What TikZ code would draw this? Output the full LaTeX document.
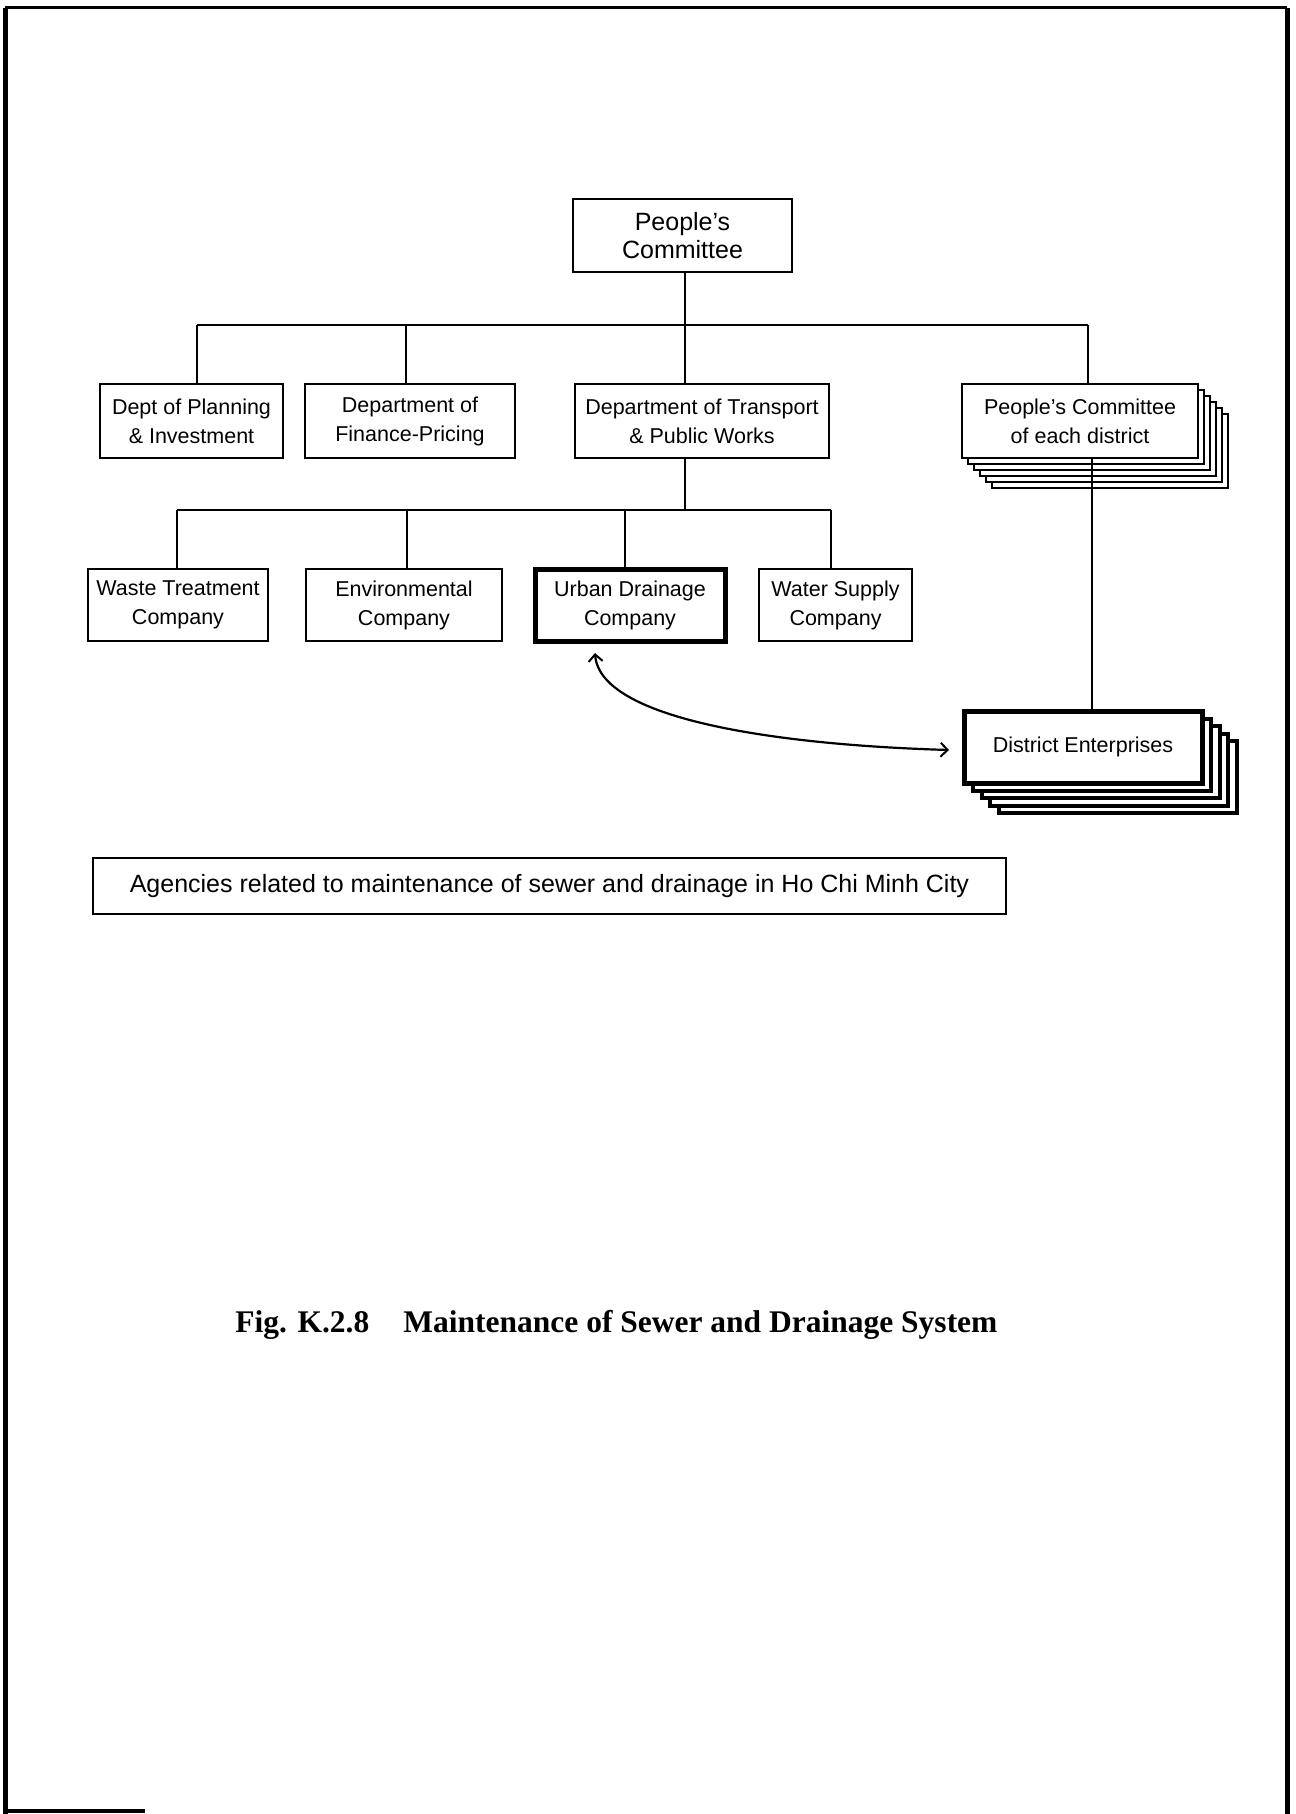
\documentclass[tikz,border=0pt]{standalone}
\usepackage{fontspec}
\setmainfont{Liberation Sans}
\newfontfamily\titlefont{Liberation Serif}
\usetikzlibrary{arrows.meta,calc}

\tikzset{openbarb/.tip={Straight Barb[length=3.5pt, width=7pt, line width=1pt]}}

\begin{document}
\begin{tikzpicture}[x=0.5pt,y=-0.5pt,
  box/.style={draw, line width=1pt, fill=white, align=center, inner sep=0pt,
    font=\fontsize{10.75pt}{14.5pt}\selectfont},
  bigbox/.style={box, font=\fontsize{12.5pt}{14pt}\selectfont},
  heavy/.style={line width=2.5pt},
  size/.style 2 args={minimum width=#1*0.5pt, minimum height=#2*0.5pt},
  link/.style={line width=1.25pt},
  layer/.style={draw, fill=white, line width=1pt},
  heavylayer/.style={draw, fill=white, line width=2pt}
]
\useasboundingbox (0,0) rectangle (1295,1814);

% page frame
\draw[line width=2.5pt] (5,1814) -- (5,8);
\draw[line width=1.5pt] (5,8) -- (1287,8);
\draw[line width=2.5pt] (1287,8) -- (1287,1814);
\draw[line width=2pt] (3,1811) -- (145,1811);

% junctions on the two busses
\coordinate (j1) at (197,325);
\coordinate (j2) at (406,325);
\coordinate (j3) at (685,325);
\coordinate (j4) at (1088,325);
\coordinate (k1) at (177,510);
\coordinate (k2) at (407,510);
\coordinate (k3) at (625,510);
\coordinate (k4) at (831,510);
\coordinate (k0) at (685,510);
\coordinate (dl) at (1092,0);

% top level
\node[bigbox, size={219}{73}] (pc) at (682.5,235.5) {People's\\Committee};

% stacked copies behind the district committee
\foreach \k in {5,4,3,2,1}
  \draw[layer] (962+6*\k,384+6*\k) rectangle (1198+6*\k,458+6*\k);

% second row
\node[box, size={183}{74}] (plan) at (191.5,421) {Dept of Planning\\\& Investment};
\node[box, size={210}{74}] (fin) at (410,421) {Department of\\Finance-Pricing};
\node[box, size={254}{74}] (dtpw) at (702,421) {Department of Transport\\\& Public Works};
\node[box, size={236}{74}] (pcd) at (1080,421) {People's Committee\\of each district};

% third row
\node[box, size={180}{72}] (waste) at (178,605) {Waste Treatment\\Company};
\node[box, size={196}{72}] (env) at (404,605) {Environmental\\Company};
\node[box, heavy, size={190}{72}] (ud) at (630,605) {Urban Drainage\\Company};
\node[box, size={153}{72}] (water) at (835.5,605) {Water Supply\\Company};

% stacked district enterprises
\foreach \k in {4,3,2,1}
  \draw[heavylayer] (964+8.75*\k,711+7.5*\k) rectangle (1202+8.75*\k,783+7.5*\k);
\node[box, heavy, size={238}{72}] (de) at (1083,747) {District Enterprises};

% connectors from the People's Committee
\draw[link] (j3 |- pc.south) -- (j3 |- dtpw.north);
\draw[link] (j1) -- (j4);
\draw[link] (j1) -- (j1 |- plan.north);
\draw[link] (j2) -- (j2 |- fin.north);
\draw[link] (j4) -- (j4 |- pcd.north);

% connectors from the Department of Transport & Public Works
\draw[link] (k0 |- dtpw.south) -- (k0);
\draw[link] (k1) -- (k4);
\draw[link] (k1) -- (k1 |- waste.north);
\draw[link] (k2) -- (k2 |- env.north);
\draw[link] (k3) -- (k3 |- ud.north);
\draw[link] (k4) -- (k4 |- water.north);

% district committee to district enterprises
\draw[link] (dl |- pcd.south) -- (dl |- de.north);

% cooperation between drainage company and district enterprises
\coordinate (ca) at (595,653);
\coordinate (cb) at (949,750);
\draw[line width=1.1pt, openbarb-openbarb] (ca) .. controls (600,720) and (780,745) .. (cb);

% caption
\node[bigbox, size={913}{56}] (cap) at (549.5,886)
  {Agencies related to maintenance of sewer and drainage in Ho Chi Minh City};

% figure title
\node[anchor=base west, inner sep=0pt, font=\titlefont\bfseries\fontsize{15.75pt}{18pt}\selectfont] (fig) at (235,1332) {Fig. K.2.8};
\node[anchor=base west, inner sep=0pt, font=\titlefont\bfseries\fontsize{15.75pt}{18pt}\selectfont] (ttl) at (403,1332) {Maintenance of Sewer and Drainage System};
\end{tikzpicture}
\end{document}
